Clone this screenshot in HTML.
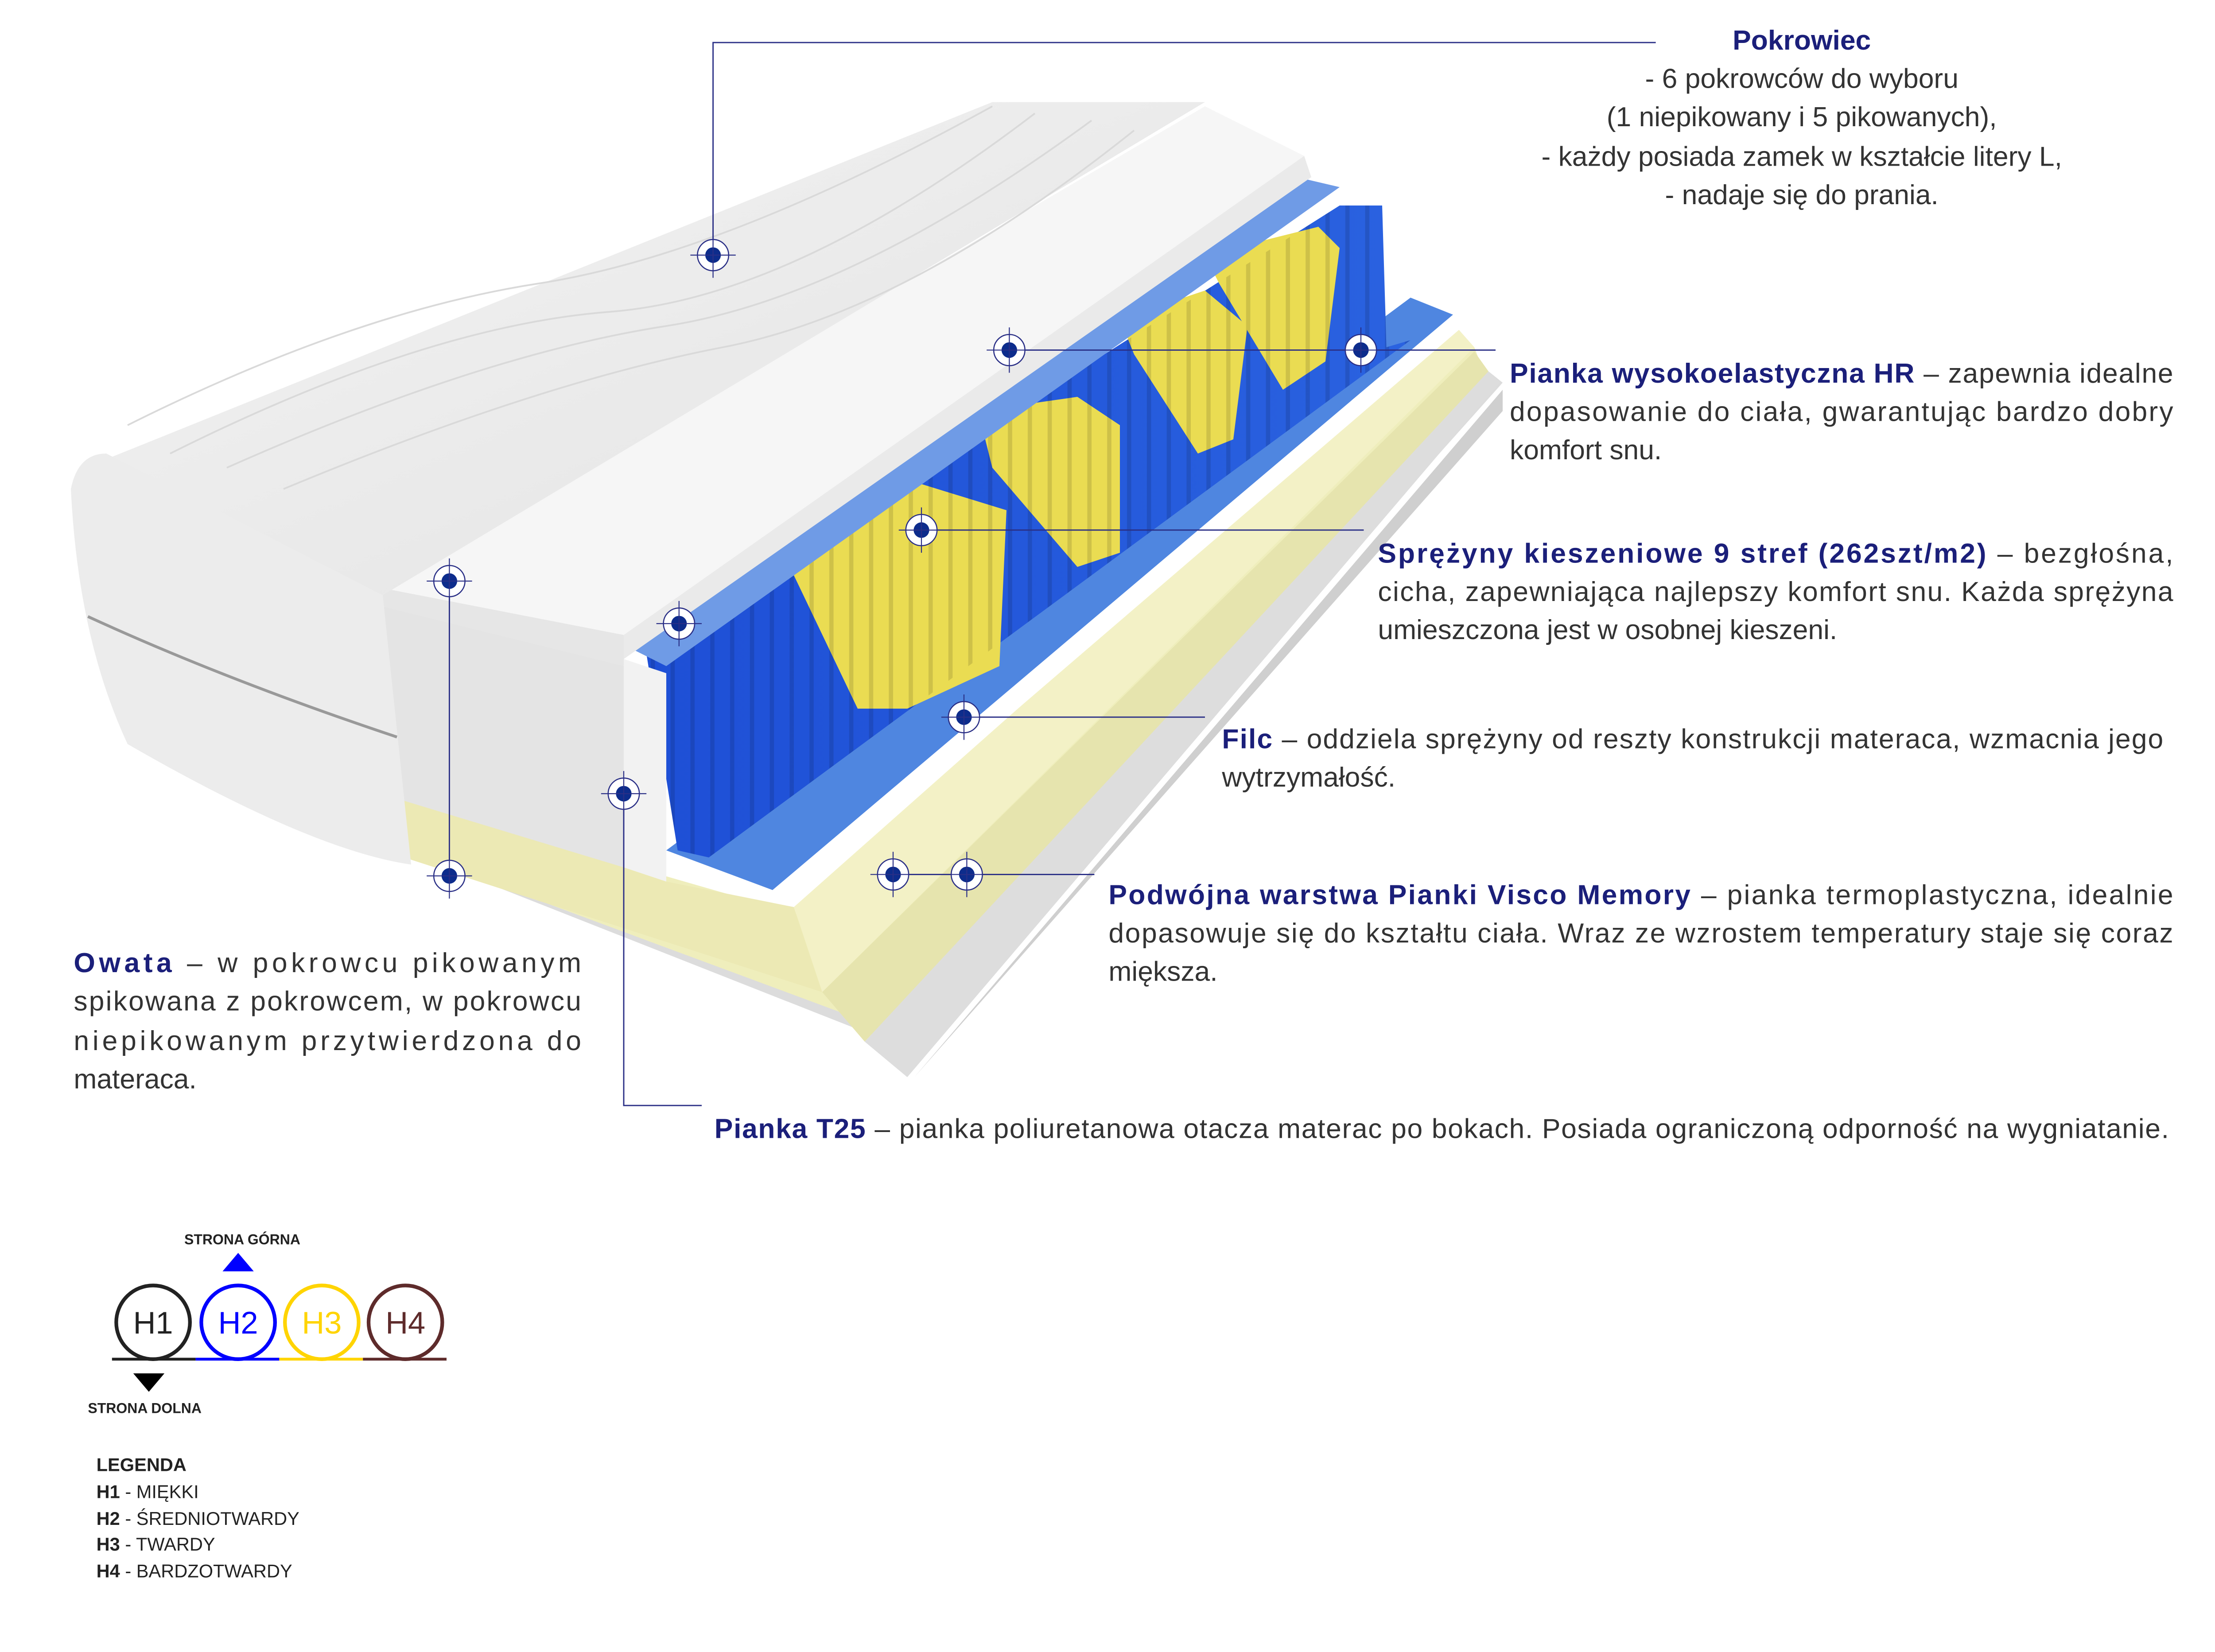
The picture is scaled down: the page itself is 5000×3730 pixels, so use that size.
<!DOCTYPE html>
<html><head><meta charset="utf-8">
<style>
html,body{margin:0;padding:0;background:#fff;}
svg{display:block;}
text{font-family:"Liberation Sans",sans-serif;}
.t{fill:#333;font-size:19.5px;}
.b{fill:#1b1f7a;font-weight:bold;}
.ln{stroke:#2a2f86;stroke-width:0.9;fill:none;}
</style></head>
<body>
<svg width="5000" height="3730" viewBox="0 0 1562.5 1165.6" xmlns="http://www.w3.org/2000/svg">
<defs>
<linearGradient id="cov" x1="0" y1="0" x2="1" y2="1">
<stop offset="0" stop-color="#f4f4f4"/><stop offset="1" stop-color="#e2e2e2"/></linearGradient>
<linearGradient id="spr" x1="0" y1="0" x2="1" y2="0">
<stop offset="0" stop-color="#1e4fd6"/><stop offset="1" stop-color="#2a62e0"/></linearGradient>
<pattern id="cols" width="14" height="40" patternUnits="userSpaceOnUse">
<rect width="14" height="40" fill="none"/><rect x="11" width="3" height="40" fill="#000" opacity="0.12"/></pattern>
<g id="mk"><circle r="11" fill="#fff" stroke="#2a2f86" stroke-width="0.8"/><circle r="5.5" fill="#0d2c8c"/><line x1="-16" y1="0" x2="16" y2="0" stroke="#2a2f86" stroke-width="0.7"/><line x1="0" y1="-16" x2="0" y2="16" stroke="#2a2f86" stroke-width="0.7"/></g>
</defs>
<rect width="1562.5" height="1165.6" fill="#fff"/>

<!-- bottom gray base -->
<polygon points="285,600 640,740 1060,270 1045,258 600,715 285,585" fill="#dcdcdc"/>
<polygon points="290,620 645,760 1060,275 1060,290 645,760" fill="#cfcfcf"/>
<!-- visco layers -->
<polygon points="285,565 580,650 1040,245 1045,258 595,715 285,600" fill="#efeebc"/>
<polygon points="560,640 1025,228 1040,245 580,700" fill="#f3f1c6"/>
<polygon points="580,700 1040,248 1050,262 610,735" fill="#e6e4ae"/>
<polygon points="610,735 1050,262 1058,270 640,760" fill="#dddddd"/>
<!-- blue felt bottom -->
<polygon points="470,600 995,210 1025,222 545,628" fill="#4f86e0"/>
<polygon points="545,628 1025,222 1030,232 555,640" fill="#ffffff"/>
<!-- springs -->
<polygon points="455,455 945,145 975,145 978,245 995,240 500,605 478,600" fill="url(#spr)"/>
<polygon points="550,385 645,340 710,360 705,470 640,500 605,500" fill="#eadc52"/>
<polygon points="690,290 760,280 790,300 790,390 760,400 700,330" fill="#eadc52"/>
<polygon points="790,225 850,205 880,230 870,310 845,320 800,250" fill="#eadc52"/>
<polygon points="850,180 930,160 945,175 935,255 905,275 860,200" fill="#eadc52"/>
<polygon points="455,455 945,145 975,145 978,245 995,240 500,605 478,600" fill="url(#cols)"/>
<!-- blue felt top -->
<polygon points="440,455 915,125 945,132 470,470" fill="#6f9be6"/>
<!-- T25 side block -->
<polygon points="270,420 440,470 440,612 285,570" fill="#e4e4e4"/>
<polygon points="440,465 470,475 470,622 440,612" fill="#f2f2f2"/>
<polygon points="285,565 440,612 470,622 560,640 580,700 285,605" fill="#ece9b4"/>
<!-- HR white top layer -->
<polygon points="270,415 850,75 920,110 440,448" fill="#f6f6f6"/>
<polygon points="270,415 440,448 440,470 270,428" fill="#e6e6e6"/>
<polygon points="440,448 920,110 925,125 440,465" fill="#eaeaea"/>
<!-- cover -->
<polygon points="60,330 700,72 850,72 270,420" fill="url(#cov)"/>
<path d="M50,345 Q55,320 75,320 L270,420 L290,610 Q220,600 90,525 Q55,450 50,345 Z" fill="#ececec"/>
<path d="M62,435 Q160,480 280,520" stroke="#999" stroke-width="2" fill="none"/>
<g stroke="#d9d9d9" stroke-width="1.2" fill="none">
<path d="M120,320 Q300,230 430,220 T730,80"/><path d="M160,330 Q340,250 470,230 T770,85"/>
<path d="M200,345 Q380,270 510,245 T800,92"/><path d="M90,300 Q250,220 380,200 T700,75"/>
</g>

<!-- connector lines -->
<polyline class="ln" points="503,180 503,30 1168,30"/>
<line class="ln" x1="712" y1="247" x2="1055" y2="247"/>
<line class="ln" x1="650" y1="374" x2="962" y2="374"/>
<line class="ln" x1="680" y1="506" x2="850" y2="506"/>
<line class="ln" x1="630" y1="617" x2="772" y2="617"/>
<line class="ln" x1="317" y1="410" x2="317" y2="618"/>
<polyline class="ln" points="440,560 440,780 495,780"/>
<use href="#mk" x="503" y="180"/><use href="#mk" x="712" y="247"/><use href="#mk" x="960" y="247"/>
<use href="#mk" x="650" y="374"/><use href="#mk" x="479" y="440"/><use href="#mk" x="317" y="410"/>
<use href="#mk" x="680" y="506"/><use href="#mk" x="440" y="560"/><use href="#mk" x="317" y="618"/>
<use href="#mk" x="630" y="617"/><use href="#mk" x="682" y="617"/>

<!-- texts -->
<g class="t" text-anchor="middle">
<text x="1271" y="35" class="b">Pokrowiec</text>
<text x="1271" y="62">- 6 pokrowców do wyboru</text>
<text x="1271" y="89">(1 niepikowany i 5 pikowanych),</text>
<text x="1271" y="117">-  każdy posiada zamek w kształcie litery L,</text>
<text x="1271" y="144">- nadaje się do prania.</text>
</g>
<g class="t">
<text x="1065" y="270" textLength="468" lengthAdjust="spacing"><tspan class="b">Pianka wysokoelastyczna HR</tspan> – zapewnia idealne</text>
<text x="1065" y="297" textLength="468" lengthAdjust="spacing">dopasowanie do ciała, gwarantując bardzo dobry</text>
<text x="1065" y="324">komfort snu.</text>
<text x="972" y="397" textLength="561" lengthAdjust="spacing"><tspan class="b">Sprężyny kieszeniowe 9 stref (262szt/m2)</tspan> – bezgłośna,</text>
<text x="972" y="424" textLength="561" lengthAdjust="spacing">cicha, zapewniająca najlepszy komfort snu. Każda sprężyna</text>
<text x="972" y="451">umieszczona jest w osobnej kieszeni.</text>
<text x="862" y="528" textLength="664" lengthAdjust="spacing"><tspan class="b">Filc</tspan> – oddziela sprężyny od reszty konstrukcji materaca, wzmacnia jego</text>
<text x="862" y="555">wytrzymałość.</text>
<text x="782" y="638" textLength="751" lengthAdjust="spacing"><tspan class="b">Podwójna warstwa Pianki Visco Memory</tspan> – pianka termoplastyczna, idealnie</text>
<text x="782" y="665" textLength="751" lengthAdjust="spacing">dopasowuje się do kształtu ciała. Wraz ze wzrostem temperatury staje się coraz</text>
<text x="782" y="692">miększa.</text>
<text x="52" y="686" textLength="358" lengthAdjust="spacing"><tspan class="b">Owata</tspan> – w pokrowcu pikowanym</text>
<text x="52" y="713" textLength="358" lengthAdjust="spacing">spikowana z pokrowcem, w pokrowcu</text>
<text x="52" y="741" textLength="358" lengthAdjust="spacing">niepikowanym przytwierdzona do</text>
<text x="52" y="768">materaca.</text>
<text x="504" y="803" textLength="1026" lengthAdjust="spacing"><tspan class="b">Pianka T25</tspan> – pianka poliuretanowa otacza materac po bokach. Posiada ograniczoną odporność na wygniatanie.</text>
</g>

<!-- legend -->
<text x="130" y="878" font-size="10" font-weight="bold" fill="#222">STRONA GÓRNA</text>
<polygon points="157,897 179,897 168,884" fill="#0000ff"/>
<g fill="none" stroke-width="2.6">
<circle cx="108" cy="933" r="26" stroke="#222"/>
<circle cx="168" cy="933" r="26" stroke="#0000ff"/>
<circle cx="227" cy="933" r="26" stroke="#ffd400"/>
<circle cx="286" cy="933" r="26" stroke="#5e2b2b"/>
</g>
<g stroke-width="2">
<line x1="79" y1="959" x2="138" y2="959" stroke="#222"/>
<line x1="138" y1="959" x2="197" y2="959" stroke="#0000ff"/>
<line x1="197" y1="959" x2="256" y2="959" stroke="#ffd400"/>
<line x1="256" y1="959" x2="315" y2="959" stroke="#5e2b2b"/>
</g>
<g font-size="22" text-anchor="middle">
<text x="108" y="941" fill="#222">H1</text>
<text x="168" y="941" fill="#0000ff">H2</text>
<text x="227" y="941" fill="#ffd400">H3</text>
<text x="286" y="941" fill="#5e2b2b">H4</text>
</g>
<polygon points="94,969 116,969 105,982" fill="#000"/>
<text x="62" y="997" font-size="10" font-weight="bold" fill="#222">STRONA DOLNA</text>
<g font-size="13" fill="#222">
<text x="68" y="1038" font-weight="bold">LEGENDA</text>
<text x="68" y="1057"><tspan font-weight="bold">H1</tspan> - MIĘKKI</text>
<text x="68" y="1076"><tspan font-weight="bold">H2</tspan> - ŚREDNIOTWARDY</text>
<text x="68" y="1094"><tspan font-weight="bold">H3</tspan> - TWARDY</text>
<text x="68" y="1113"><tspan font-weight="bold">H4</tspan> - BARDZOTWARDY</text>
</g>
</svg>
</body></html>
